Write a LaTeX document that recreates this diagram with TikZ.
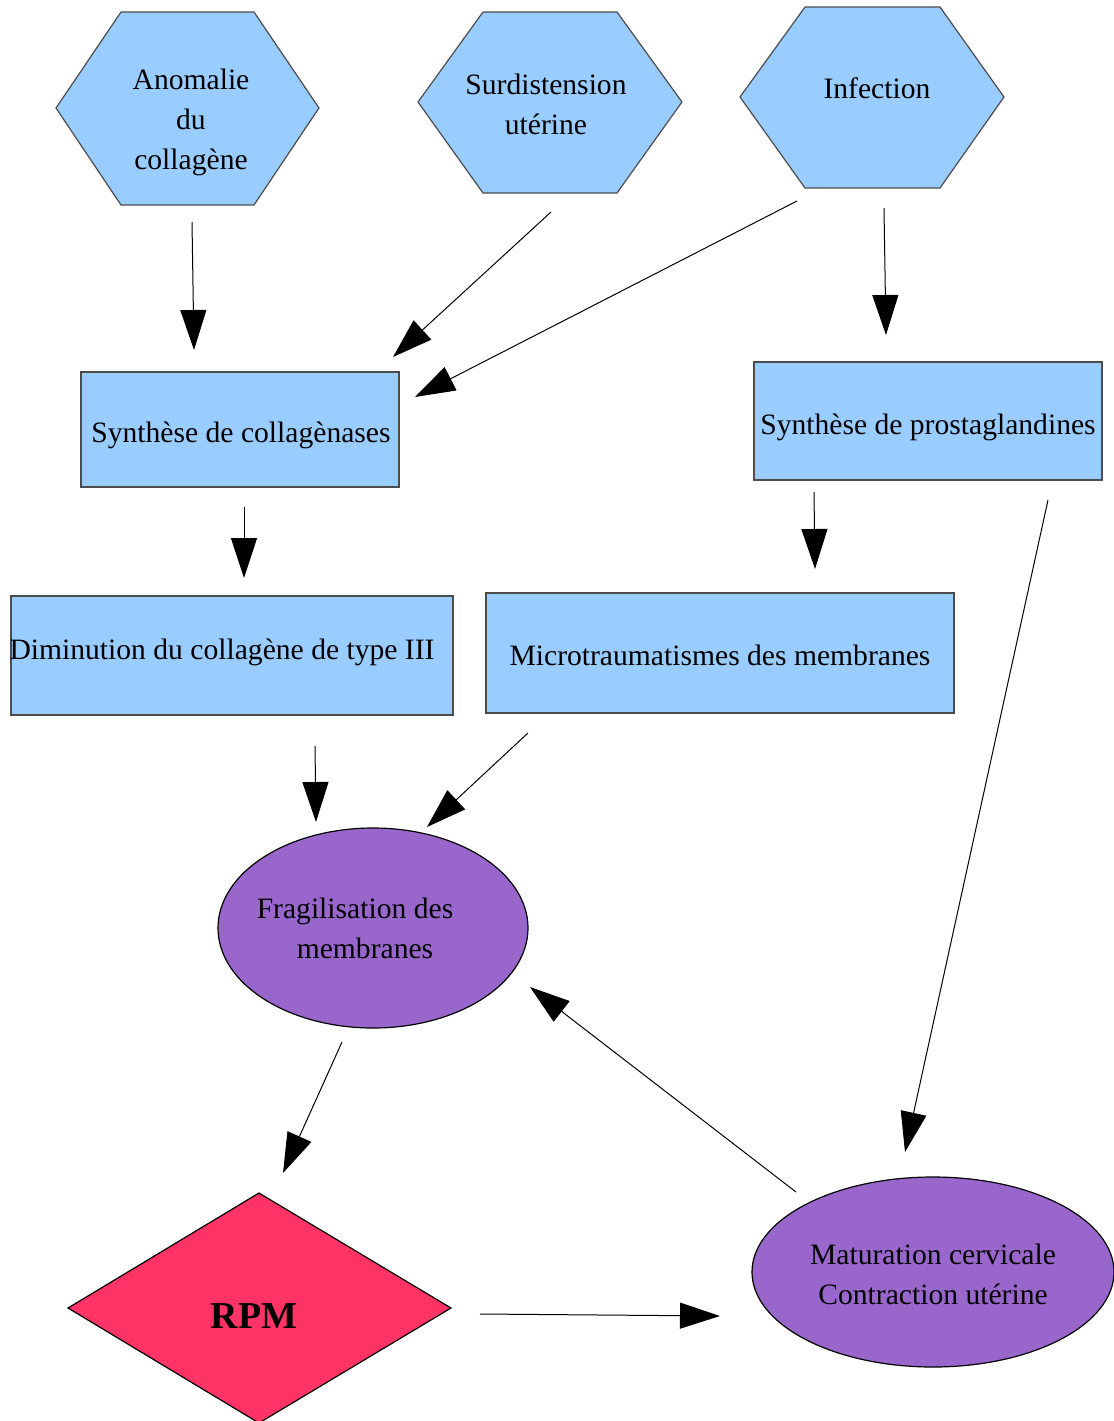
\documentclass[tikz,border=0pt]{standalone}
\usepackage{fontspec}
\setmainfont{Liberation Serif}
\usetikzlibrary{arrows.meta,shapes.geometric}
\definecolor{lblue}{HTML}{99CCFF}
\definecolor{purp}{HTML}{9966CC}
\definecolor{rpmred}{HTML}{FF3366}
\begin{document}
\begin{tikzpicture}[x=0.5pt,y=-0.5pt,
  shapebox/.style={draw=black!70, fill=lblue, line width=0.6pt, rectangle, inner sep=0pt},
  hexa/.style={draw=black!70, fill=lblue, line width=0.6pt},
  oval/.style={draw=black, fill=purp, line width=0.6pt, ellipse, inner sep=0pt},
  txt/.style={font=\fontsize{14.8}{20}\selectfont, align=center, inner sep=0pt},
  arr/.style={-{Triangle[length=20pt,width=13pt]}, line width=0.5pt}]
\useasboundingbox (0,0) rectangle (1114,1421);
% hexagons
\draw[hexa] (56,108) -- (121,12) -- (254,12) -- (319,108) -- (254,205) -- (121,205) -- cycle;
\draw[hexa] (418,102) -- (483,12) -- (617,12) -- (682,102) -- (617,193) -- (483,193) -- cycle;
\draw[hexa] (740,97) -- (805,7) -- (940,7) -- (1004,97) -- (940,188) -- (805,188) -- cycle;
\node[txt] (anom) at (191,121) {\strut Anomalie\\du\\collagène\strut};
\node[txt] (surd) at (546,106) {\strut Surdistension\\utérine\strut};
\node[txt] (infe) at (877,90) {\strut Infection\strut};
% rectangles
\node[shapebox, minimum width=159pt, minimum height=57.5pt] (collR) at (240,429.5) {};
\node[shapebox, minimum width=174pt, minimum height=59pt] (prostR) at (928,421) {};
\node[shapebox, minimum width=221pt, minimum height=59.5pt] (diminR) at (232,655.5) {};
\node[shapebox, minimum width=234pt, minimum height=60pt] (microR) at (720,653) {};
\node[txt] (coll) at (241,434) {\strut Synthèse de collagènases\strut};
\node[txt] (prost) at (928,426) {\strut Synthèse de prostaglandines\strut};
\node[txt] (dimin) at (222,651) {\strut Diminution du collagène de type III\strut};
\node[txt] (micro) at (720,657) {\strut Microtraumatismes des membranes\strut};
% ellipses
\node[oval, minimum width=155pt, minimum height=100pt] (fragE) at (373,928) {};
\node[oval, minimum width=181pt, minimum height=95pt] (matE) at (933,1272) {};
\node[txt] (frag) at (365,930) {\strut Fragilisation des\hspace*{10pt}\\membranes\strut};
\node[txt] (mat) at (933,1276) {\strut Maturation cervicale\\Contraction utérine\strut};
% diamond
\draw[draw=black, fill=rpmred, line width=0.6pt] (68,1308) -- (259,1193) -- (451,1308) -- (259,1423) -- cycle;
\node[font=\fontsize{19}{23}\selectfont\bfseries, inner sep=0pt, anchor=base] (rpm) at (254,1328) {RPM};
% connector end points
\coordinate (s1) at (192,222);  \coordinate (e1) at (194,350);
\coordinate (s2) at (551,212);  \coordinate (e2) at (393,357);
\coordinate (s3) at (797,201);  \coordinate (e3) at (415,397);
\coordinate (s4) at (884,208);  \coordinate (e4) at (886,335);
\coordinate (s5) at (244,507);  \coordinate (e5) at (244,578);
\coordinate (s6) at (814,492);  \coordinate (e6) at (815,569);
\coordinate (s7) at (1048,500); \coordinate (e7) at (905,1152);
\coordinate (s8) at (315,746);  \coordinate (e8) at (316,822);
\coordinate (s9) at (528,733);  \coordinate (e9) at (427,827);
\coordinate (s10) at (342,1042); \coordinate (e10) at (283,1173);
\coordinate (s11) at (480,1314); \coordinate (e11) at (720,1316);
\coordinate (s12) at (796,1192); \coordinate (e12) at (530,987);
\foreach \i in {1,...,12} {\draw[arr] (s\i) -- (e\i);}
\end{tikzpicture}
\end{document}
